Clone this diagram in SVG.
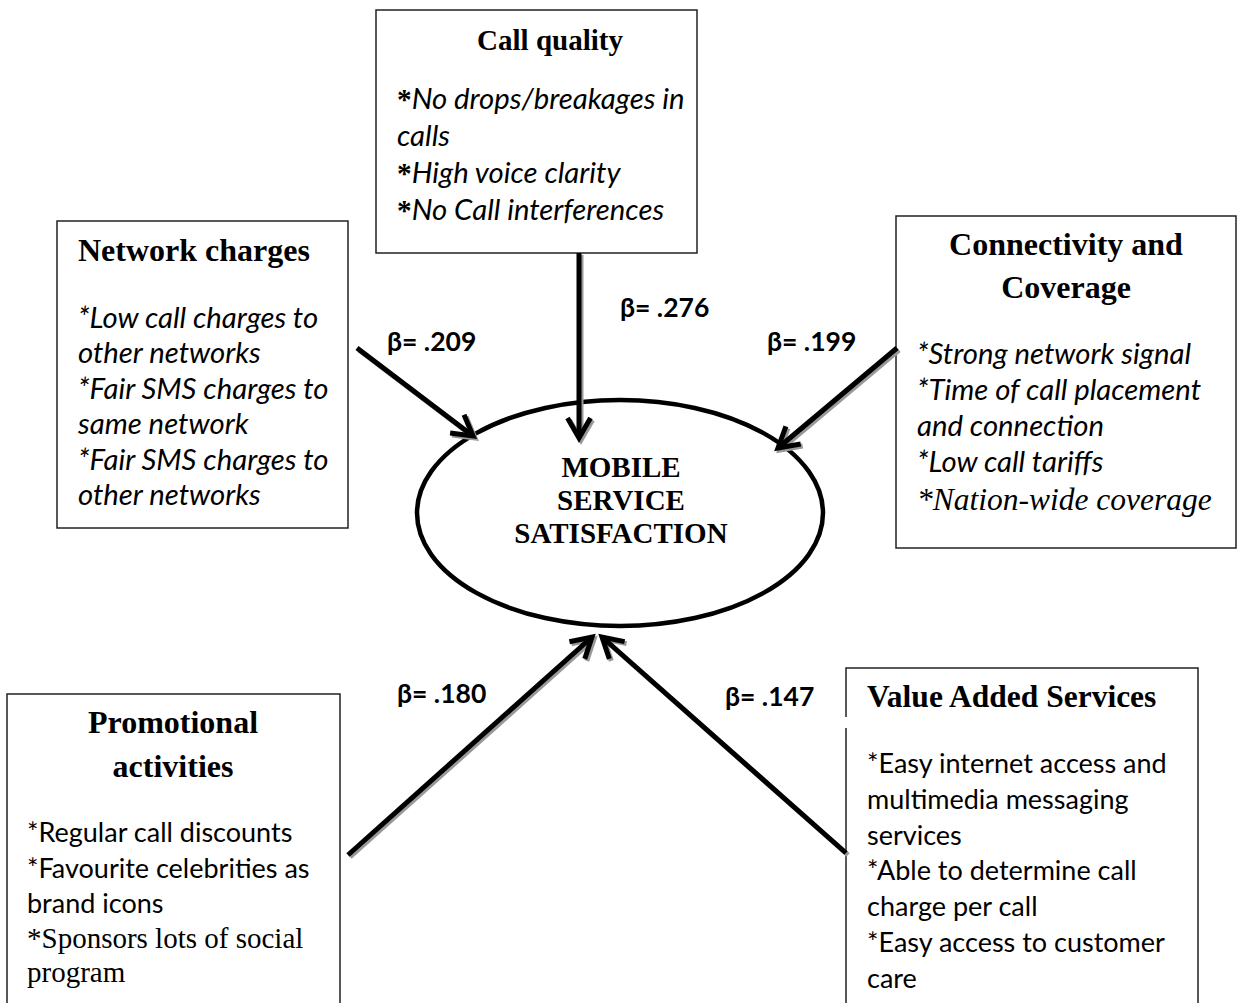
<svg xmlns="http://www.w3.org/2000/svg" width="1240" height="1003" viewBox="0 0 1240 1003">
<style>
.box{fill:#fff;stroke:#222;stroke-width:1.5}
.title{font-family:"Liberation Serif","Times New Roman",serif;font-weight:bold;fill:#000}
.it{font-family:Lato,"Noto Sans",sans-serif;font-style:italic;font-size:29.3px;fill:#000}
.rg{font-family:Lato,"Noto Sans",sans-serif;font-size:27px;fill:#000}
.ser{font-family:"Liberation Serif","Times New Roman",serif;fill:#000}
.beta{font-family:Lato,"Noto Sans",sans-serif;font-weight:bold;font-size:26.5px;fill:#000}
.ln{fill:none;stroke:#000;stroke-width:5}
.sh{fill:none;stroke:#999;stroke-width:5}
</style>
<defs>
<marker id="ah" markerUnits="userSpaceOnUse" orient="auto" refX="0" refY="0" markerWidth="40" markerHeight="40" viewBox="-30 -20 40 40" overflow="visible">
<path d="M-20,-11.5 L0,0 L-20,11.5" fill="none" stroke="#000" stroke-width="5"/>
</marker>
<marker id="ahs" markerUnits="userSpaceOnUse" orient="auto" refX="0" refY="0" markerWidth="40" markerHeight="40" viewBox="-30 -20 40 40" overflow="visible">
<path d="M-20,-11.5 L0,0 L-20,11.5" fill="none" stroke="#999" stroke-width="5"/>
</marker>
</defs>
<rect width="1240" height="1003" fill="#fff"/>

<g id="node-call-quality">
<rect class="box" x="376" y="10" width="321" height="243"/>
<text class="title" x="550" y="50" font-size="29" text-anchor="middle">Call quality</text>
<text class="it" x="397" y="109"><tspan class="ser" font-weight="bold" font-style="normal">*</tspan>No drops/breakages in</text>
<text class="it" x="397" y="146">calls</text>
<text class="it" x="397" y="183"><tspan class="ser" font-weight="bold" font-style="normal">*</tspan>High voice clarity</text>
<text class="it" x="397" y="220"><tspan class="ser" font-weight="bold" font-style="normal">*</tspan>No Call interferences</text>
</g>

<g id="node-network-charges">
<rect class="box" x="57" y="221" width="291" height="307"/>
<text class="title" x="78" y="261" font-size="32">Network charges</text>
<text class="it" x="78" y="328">*Low call charges to</text>
<text class="it" x="78" y="363">other networks</text>
<text class="it" x="78" y="399">*Fair SMS charges to</text>
<text class="it" x="78" y="434">same network</text>
<text class="it" x="78" y="470">*Fair SMS charges to</text>
<text class="it" x="78" y="505">other networks</text>
</g>

<g id="node-connectivity">
<rect class="box" x="896" y="216" width="340" height="332"/>
<text class="title" x="1066" y="255" font-size="32" text-anchor="middle">Connectivity and</text>
<text class="title" x="1066" y="298" font-size="32" text-anchor="middle">Coverage</text>
<text class="it" x="917" y="364">*Strong network signal</text>
<text class="it" x="917" y="400">*Time of call placement</text>
<text class="it" x="917" y="436">and connection</text>
<text class="it" x="917" y="472">*Low call tariffs</text>
<text class="ser" x="917" y="510" font-size="31.5" font-style="italic">*Nation-wide coverage</text>
</g>

<g id="node-satisfaction">
<ellipse cx="620" cy="513" rx="203" ry="113" fill="#fff" stroke="#000" stroke-width="4.5"/>
<text class="title" x="621" y="477" font-size="29" text-anchor="middle">MOBILE</text>
<text class="title" x="621" y="510" font-size="29" text-anchor="middle">SERVICE</text>
<text class="title" x="621" y="543" font-size="29" text-anchor="middle">SATISFACTION</text>
</g>

<g id="node-promotional">
<rect class="box" x="7" y="694" width="333" height="330"/>
<text class="title" x="173" y="733" font-size="32" text-anchor="middle">Promotional</text>
<text class="title" x="173" y="777" font-size="32" text-anchor="middle">activities</text>
<text class="rg" x="27" y="842">*Regular call discounts</text>
<text class="rg" x="27" y="878">*Favourite celebrities as</text>
<text class="rg" x="27" y="913">brand icons</text>
<text class="ser" x="27" y="948" font-size="29">*Sponsors lots of social</text>
<text class="ser" x="27" y="982" font-size="29">program</text>
</g>

<g id="node-value-added">
<path d="M846,717 V668 H1198 V1020 M846,728 V1020" fill="none" stroke="#222" stroke-width="1.5"/>
<text class="title" x="867" y="707" font-size="31.5">Value Added Services</text>
<text class="rg" x="867" y="773">*Easy internet access and</text>
<text class="rg" x="867" y="809">multimedia messaging</text>
<text class="rg" x="867" y="845">services</text>
<text class="rg" x="867" y="880">*Able to determine call</text>
<text class="rg" x="867" y="916">charge per call</text>
<text class="rg" x="867" y="952">*Easy access to customer</text>
<text class="rg" x="867" y="988">care</text>
</g>

<g id="connectors">
<g transform="translate(2,2)">
<line class="sh" x1="579" y1="253" x2="579" y2="438" marker-end="url(#ahs)"/>
<line class="sh" x1="357" y1="348" x2="473" y2="436" marker-end="url(#ahs)"/>
<line class="sh" x1="897" y1="348" x2="778" y2="448" marker-end="url(#ahs)"/>
<line class="sh" x1="348" y1="855" x2="592" y2="637" marker-end="url(#ahs)"/>
<line class="sh" x1="846" y1="853" x2="602" y2="637" marker-end="url(#ahs)"/>
</g>
<line class="ln" x1="579" y1="253" x2="579" y2="438" marker-end="url(#ah)"/>
<line class="ln" x1="357" y1="348" x2="473" y2="436" marker-end="url(#ah)"/>
<line class="ln" x1="897" y1="348" x2="778" y2="448" marker-end="url(#ah)"/>
<line class="ln" x1="348" y1="855" x2="592" y2="637" marker-end="url(#ah)"/>
<line class="ln" x1="846" y1="853" x2="602" y2="637" marker-end="url(#ah)"/>
<text class="beta" x="387" y="351">β= .209</text>
<text class="beta" x="620" y="317">β= .276</text>
<text class="beta" x="767" y="351">β= .199</text>
<text class="beta" x="397" y="703">β= .180</text>
<text class="beta" x="725" y="706">β= .147</text>
</g>
</svg>
